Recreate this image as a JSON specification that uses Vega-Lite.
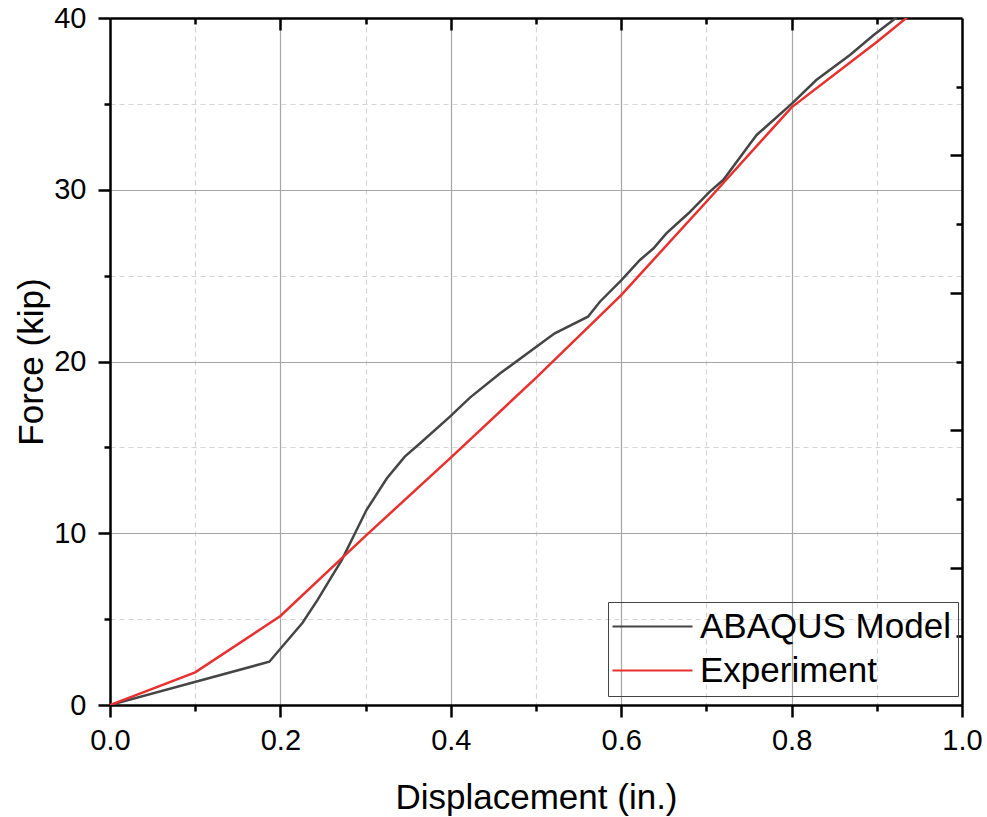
{
  "$schema": "https://vega.github.io/schema/vega-lite/v6.json",
  "width": 852,
  "height": 687,
  "autosize": "none",
  "padding": {"left": 110, "top": 18, "right": 25, "bottom": 112},
  "background": "white",
  "config": {
    "view": {"stroke": null},
    "font": "Liberation Sans",
    "axis": {"tickWidth": 2.5, "tickColor": "black", "domainColor": "black", "domainWidth": 2.5, "labelColor": "black", "titleColor": "black", "titleFontWeight": "normal", "labelFlush": false, "labelOverlap": false}
  },
  "data": {
    "values": [
      {"d": 0, "F": 0, "series": "ABAQUS Model"},
      {"d": 0.187, "F": 2.52, "series": "ABAQUS Model"},
      {"d": 0.226, "F": 4.79, "series": "ABAQUS Model"},
      {"d": 0.244, "F": 6.15, "series": "ABAQUS Model"},
      {"d": 0.258, "F": 7.3, "series": "ABAQUS Model"},
      {"d": 0.272, "F": 8.44, "series": "ABAQUS Model"},
      {"d": 0.301, "F": 11.35, "series": "ABAQUS Model"},
      {"d": 0.325, "F": 13.2, "series": "ABAQUS Model"},
      {"d": 0.346, "F": 14.46, "series": "ABAQUS Model"},
      {"d": 0.364, "F": 15.24, "series": "ABAQUS Model"},
      {"d": 0.399, "F": 16.79, "series": "ABAQUS Model"},
      {"d": 0.4225, "F": 17.9, "series": "ABAQUS Model"},
      {"d": 0.458, "F": 19.31, "series": "ABAQUS Model"},
      {"d": 0.522, "F": 21.64, "series": "ABAQUS Model"},
      {"d": 0.561, "F": 22.61, "series": "ABAQUS Model"},
      {"d": 0.575, "F": 23.48, "series": "ABAQUS Model"},
      {"d": 0.6006, "F": 24.75, "series": "ABAQUS Model"},
      {"d": 0.622, "F": 25.91, "series": "ABAQUS Model"},
      {"d": 0.638, "F": 26.59, "series": "ABAQUS Model"},
      {"d": 0.653, "F": 27.46, "series": "ABAQUS Model"},
      {"d": 0.679, "F": 28.63, "series": "ABAQUS Model"},
      {"d": 0.704, "F": 29.89, "series": "ABAQUS Model"},
      {"d": 0.72, "F": 30.58, "series": "ABAQUS Model"},
      {"d": 0.751, "F": 32.66, "series": "ABAQUS Model"},
      {"d": 0.759, "F": 33.19, "series": "ABAQUS Model"},
      {"d": 0.8, "F": 35.0, "series": "ABAQUS Model"},
      {"d": 0.829, "F": 36.39, "series": "ABAQUS Model"},
      {"d": 0.8685, "F": 37.85, "series": "ABAQUS Model"},
      {"d": 0.896, "F": 39.0, "series": "ABAQUS Model"},
      {"d": 0.925, "F": 40.1, "series": "ABAQUS Model"},
      {"d": 0, "F": 0, "series": "Experiment"},
      {"d": 0.1, "F": 1.9, "series": "Experiment"},
      {"d": 0.2, "F": 5.18, "series": "Experiment"},
      {"d": 0.3, "F": 9.85, "series": "Experiment"},
      {"d": 0.4, "F": 14.4, "series": "Experiment"},
      {"d": 0.5, "F": 19.05, "series": "Experiment"},
      {"d": 0.6, "F": 23.87, "series": "Experiment"},
      {"d": 0.7, "F": 29.3, "series": "Experiment"},
      {"d": 0.8, "F": 34.8, "series": "Experiment"},
      {"d": 0.9, "F": 38.6, "series": "Experiment"},
      {"d": 0.936, "F": 40.05, "series": "Experiment"}
    ]
  },
  "layer": [
    {
      "mark": {"type": "line", "opacity": 0},
      "encoding": {
        "x": {
          "field": "d", "type": "quantitative",
          "scale": {"domain": [0, 1], "nice": false, "zero": false},
          "axis": {
            "orient": "bottom", "values": [0.1, 0.3, 0.5, 0.7, 0.9], "title": null,
            "grid": true, "gridColor": "#d4d4d4", "gridDash": [5, 4], "gridWidth": 1.2,
            "tickSize": 6, "labels": false, "domain": false
          }
        },
        "y": {
          "field": "F", "type": "quantitative",
          "scale": {"domain": [0, 40], "nice": false, "zero": false},
          "axis": {
            "orient": "left", "values": [5, 15, 25, 35], "title": null,
            "grid": true, "gridColor": "#d4d4d4", "gridDash": [5, 4], "gridWidth": 1.2,
            "tickSize": 6, "labels": false, "domain": false
          }
        }
      }
    },
    {
      "mark": {"type": "line", "opacity": 0},
      "encoding": {
        "x": {
          "field": "d", "type": "quantitative",
          "axis": {
            "orient": "top", "values": [0.1, 0.3, 0.5, 0.7, 0.9], "title": null,
            "grid": false, "labels": false, "tickSize": -6, "domain": false
          }
        },
        "y": {
          "field": "F", "type": "quantitative",
          "axis": {
            "orient": "right", "values": [4, 12, 20, 28, 36], "title": null,
            "grid": false, "labels": false, "tickSize": -6, "domain": false
          }
        }
      }
    },
    {
      "mark": {"type": "line", "opacity": 0},
      "encoding": {
        "x": {
          "field": "d", "type": "quantitative",
          "axis": {
            "orient": "top", "values": [0.2, 0.4, 0.6, 0.8], "title": null,
            "grid": false, "labels": false, "tickSize": -12, "domain": true
          }
        },
        "y": {
          "field": "F", "type": "quantitative",
          "axis": {
            "orient": "right", "values": [8, 16, 24, 32], "title": null,
            "grid": false, "labels": false, "tickSize": -12, "domain": true
          }
        }
      }
    },
    {
      "mark": {"type": "line", "strokeWidth": 2.5, "clip": true},
      "encoding": {
        "x": {
          "field": "d", "type": "quantitative",
          "axis": {
            "orient": "bottom",
            "values": [0, 0.2, 0.4, 0.6, 0.8, 1.0],
            "format": ".1f",
            "title": "Displacement (in.)",
            "grid": true, "gridColor": "#a6a6a6", "gridWidth": 1.2,
            "tickSize": 12,
            "labelFontSize": 29,
            "labelPadding": 9,
            "titleFontSize": 35,
            "titleBaseline": "alphabetic",
            "titleY": 103
          }
        },
        "y": {
          "field": "F", "type": "quantitative",
          "axis": {
            "orient": "left",
            "values": [0, 10, 20, 30, 40],
            "title": "Force (kip)",
            "grid": true, "gridColor": "#a6a6a6", "gridWidth": 1.2,
            "tickSize": 12,
            "labelFontSize": 29,
            "labelPadding": 12,
            "titleFontSize": 35,
            "titleBaseline": "alphabetic",
            "titleX": -68
          }
        },
        "color": {
          "field": "series", "type": "nominal",
          "scale": {"domain": ["ABAQUS Model", "Experiment"], "range": ["#454545", "#e8302f"]},
          "legend": {
            "orient": "none",
            "legendX": 498,
            "legendY": 584,
            "title": null,
            "symbolType": "M-2,0H6",
            "symbolSize": 400,
            "symbolStrokeWidth": 2,
            "labelFontSize": 35,
            "labelColor": "black",
            "labelLimit": 400,
            "labelOffset": 50,
            "strokeColor": "#444444",
            "padding": 7,
            "rowPadding": 8
          }
        }
      }
    }
  ],
  "resolve": {"axis": {"x": "independent", "y": "independent"}}
}
